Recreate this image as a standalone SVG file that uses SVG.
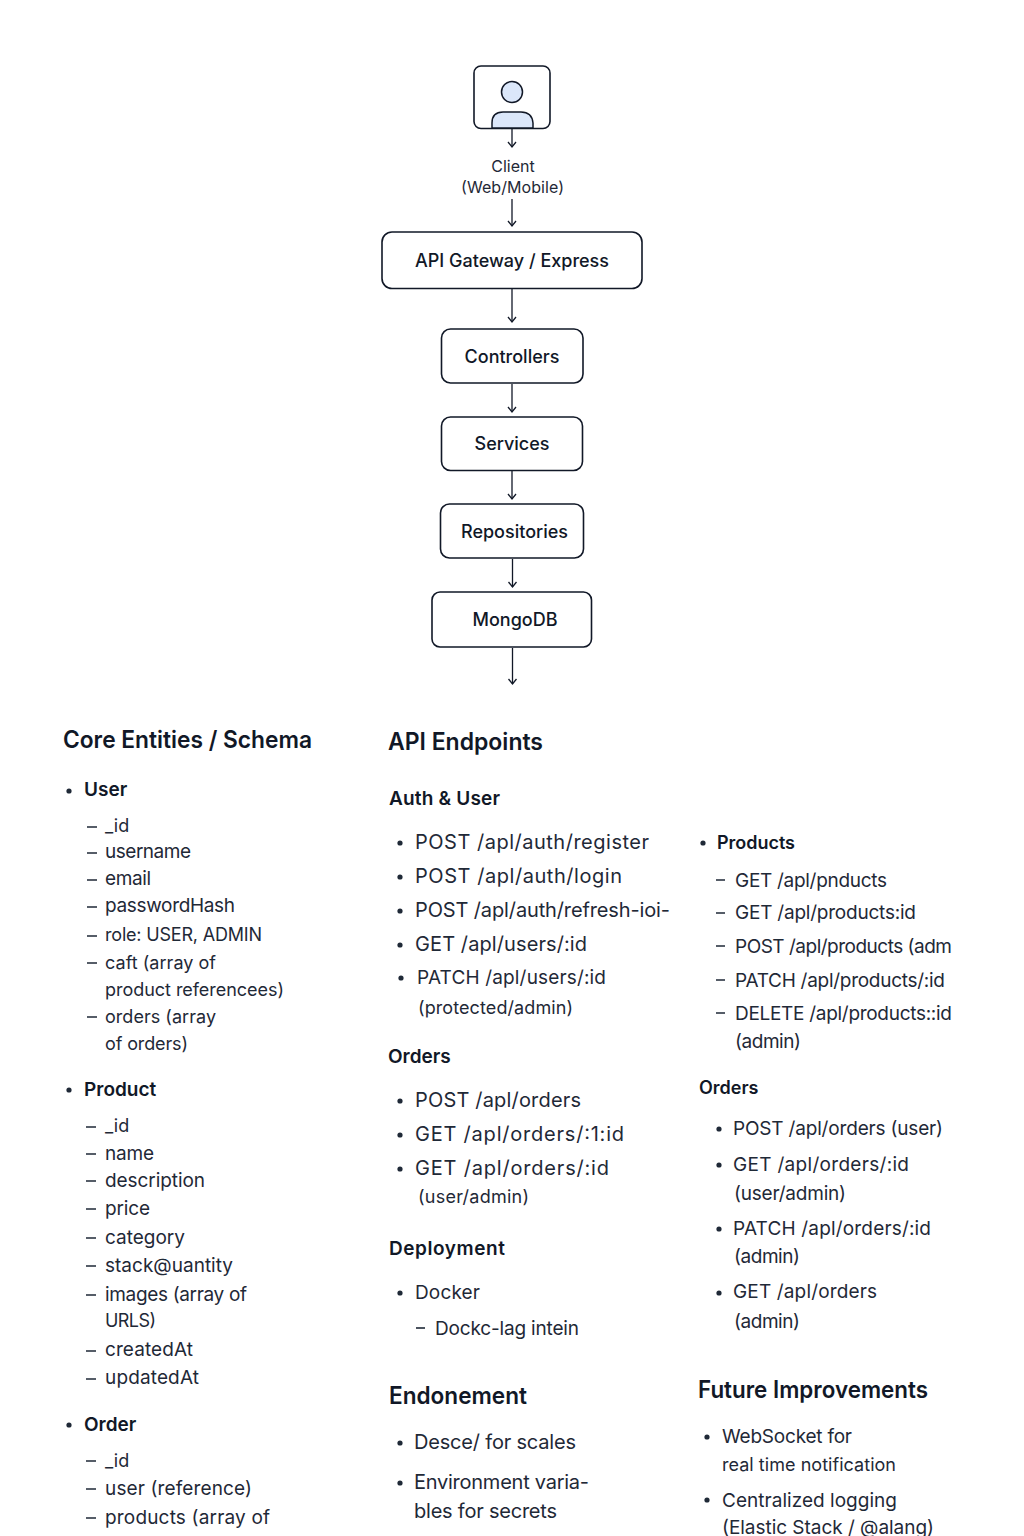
<svg xmlns="http://www.w3.org/2000/svg" width="1024" height="1536" viewBox="0 0 1024 1536">
<style>
text{font-family:Inter,"Noto Sans","Liberation Sans",sans-serif;fill:#111827}
.box{fill:#fff;stroke:#111827;stroke-width:1.6}
.n{font-size:18px;font-weight:500;text-anchor:middle}
.c{font-size:16px;text-anchor:middle;fill:#1f2937}
.h{font-size:24px;font-weight:600}
.s{font-size:19px;font-weight:600}
.t{font-size:19px;fill:#1f2937}
.w{font-size:20px}
.m{font-size:18px}
.k{font-size:19px;font-weight:600}
.d{stroke:#1f2937;stroke-width:1.6;fill:none}
.con{stroke:#111827;stroke-width:1.3;fill:none;marker-end:url(#a)}
</style>
<defs>
<marker id="a" markerWidth="12" markerHeight="10" refX="8" refY="5" orient="auto" markerUnits="userSpaceOnUse"><path d="M3 1L8 5L3 9" fill="none" stroke="#111827" stroke-width="1.3"/></marker>
<circle id="b" r="2.6" fill="#1f2937"/>
</defs>
<rect width="1024" height="1536" fill="#fff"/>
<g id="connectors">
<path class="con" d="M512 129V147"/>
<path class="con" d="M512 199V226"/>
<path class="con" d="M512 289V322"/>
<path class="con" d="M512 384V412"/>
<path class="con" d="M512 471V499"/>
<path class="con" d="M512.500 559V587"/>
<path class="con" d="M512.500 648V684"/>
</g>
<g id="client">
<rect class="box" x="474" y="66" width="76" height="62.500" rx="7"/>
<circle cx="512" cy="92" r="10.500" fill="#dbe7fa" stroke="#111827" stroke-width="1.500"/>
<path d="M492 128V123Q492 112 503 112H521Q532 112 533 123V128Z" fill="#dbe7fa" stroke="#111827" stroke-width="1.500"/>
<text class="c" x="513" y="172">Client</text>
<text class="c" x="512.500" y="193" textLength="103">(Web/Mobile)</text>
</g>
<g id="gateway"><rect class="box" x="382" y="232" width="260" height="56.500" rx="10"/><text class="n" x="512" y="266.500" textLength="194" lengthAdjust="spacingAndGlyphs">API Gateway / Express</text></g>
<g id="controllers"><rect class="box" x="441.500" y="329" width="141.500" height="54" rx="9"/><text class="n" x="512" y="363">Controllers</text></g>
<g id="services"><rect class="box" x="441.500" y="417" width="141" height="53.500" rx="9"/><text class="n" x="512" y="450">Services</text></g>
<g id="repositories"><rect class="box" x="440.500" y="504" width="143" height="54" rx="9"/><text class="n" x="514.500" y="537.500">Repositories</text></g>
<g id="mongodb"><rect class="box" x="432" y="592" width="159.500" height="55" rx="8"/><text class="n" x="515" y="625.500">MongoDB</text></g>

<g id="schema">
<text class="h" x="63" y="748" textLength="249" lengthAdjust="spacingAndGlyphs">Core Entities / Schema</text>
<use href="#b" x="69" y="791"/><text class="k" x="84" y="796">User</text>
<path class="d" d="M87 827H97M87 853H97M87 880H97M87 907H97M87 936H97M87 963H97M87 1017H97"/>
<text class="t m" x="105" y="832">_id</text>
<text class="t" x="105" y="858" textLength="86">username</text>
<text class="t" x="105" y="885" textLength="46">email</text>
<text class="t" x="105" y="912" textLength="130">passwordHash</text>
<text class="t m" x="105" y="941" textLength="157">role:  USER, ADMIN</text>
<text class="t m" x="105" y="969" textLength="111">caft (array of</text>
<text class="t m" x="105" y="996" textLength="179">product referencees)</text>
<text class="t m" x="105" y="1023" textLength="111">orders (array</text>
<text class="t m" x="105" y="1050" textLength="83">of orders)</text>
<use href="#b" x="69" y="1090"/><text class="k" x="84" y="1096">Product</text>
<path class="d" d="M86 1127H96M86 1154H96M86 1181H96M86 1209H96M86 1238H96M86 1266H96M86 1295H96M86 1351H96M86 1379H96"/>
<text class="t m" x="105" y="1132">_id</text>
<text class="t" x="105" y="1160" textLength="49">name</text>
<text class="t" x="105" y="1187" textLength="100">description</text>
<text class="t" x="105" y="1215" textLength="45">price</text>
<text class="t" x="105" y="1244" textLength="80">category</text>
<text class="t" x="105" y="1272" textLength="128">stack@uantity</text>
<text class="t" x="105" y="1301" textLength="142">images (array of</text>
<text class="t m" x="105" y="1327" textLength="51">URLS)</text>
<text class="t" x="105" y="1356" textLength="88">createdAt</text>
<text class="t" x="105" y="1384" textLength="94">updatedAt</text>
<use href="#b" x="69" y="1425"/><text class="k" x="84" y="1431">Order</text>
<path class="d" d="M86 1461H96M86 1489H96M86 1518H96"/>
<text class="t m" x="105" y="1467">_id</text>
<text class="t" x="105" y="1495" textLength="147">user (reference)</text>
<text class="t" x="105" y="1524" textLength="165">products (array of</text>
</g>

<g id="endpoints">
<text class="h" x="388" y="750" textLength="155" lengthAdjust="spacingAndGlyphs">API Endpoints</text>
<text class="s" x="389" y="805" textLength="111">Auth &amp; User</text>
<use href="#b" x="400" y="843"/><text class="t w" x="415" y="849" textLength="234">POST /apl/auth/register</text>
<use href="#b" x="400" y="877"/><text class="t w" x="415" y="883" textLength="207">POST /apl/auth/login</text>
<use href="#b" x="400" y="911"/><text class="t w" x="415" y="917" textLength="255">POST /apl/auth/refresh-ioi-</text>
<use href="#b" x="400" y="945"/><text class="t w" x="415" y="951" textLength="172">GET /apl/users/:id</text>
<use href="#b" x="401" y="978"/><text class="t" x="417" y="984" textLength="189">PATCH /apl/users/:id</text>
<text class="t m" x="418" y="1014" textLength="155">(protected/admin)</text>
<text class="s" x="388" y="1063">Orders</text>
<use href="#b" x="400" y="1101"/><text class="t w" x="415" y="1107" textLength="166">POST /apl/orders</text>
<use href="#b" x="400" y="1135"/><text class="t w" x="415" y="1141" textLength="209">GET /apl/orders/:1:id</text>
<use href="#b" x="400" y="1169"/><text class="t w" x="415" y="1175" textLength="194">GET /apl/orders/:id</text>
<text class="t m" x="418" y="1203" textLength="111">(user/admin)</text>
<text class="s" x="389" y="1255" textLength="116">Deployment</text>
<use href="#b" x="400" y="1293"/><text class="t" x="415" y="1299" textLength="65">Docker</text>
<path class="d" d="M416 1328H425"/><text class="t" x="435" y="1335" textLength="144">Dockc-lag intein</text>
<text class="h" x="389" y="1404" textLength="138" lengthAdjust="spacingAndGlyphs">Endonement</text>
<use href="#b" x="400" y="1443"/><text class="t w" x="414" y="1449" textLength="162">Desce/ for scales</text>
<use href="#b" x="400" y="1483"/><text class="t w" x="414" y="1489" textLength="175">Environment varia-</text>
<text class="t w" x="414" y="1518" textLength="143">bles for secrets</text>
</g>

<g id="products">
<use href="#b" x="703" y="843"/><text class="k" x="717" y="849" style="font-size:18px" textLength="78">Products</text>
<path class="d" d="M716 880H725M716 913H725M716 946H725M716 980H725M716 1013H725"/>
<text class="t" x="735" y="887" textLength="152">GET /apl/pnducts</text>
<text class="t" x="735" y="919" textLength="181">GET /apl/products:id</text>
<text class="t" x="735" y="953" textLength="217">POST /apl/products (adm</text>
<text class="t" x="735" y="987" textLength="210">PATCH /apl/products/:id</text>
<text class="t" x="735" y="1020" textLength="217">DELETE /apl/products::id</text>
<text class="t" x="735" y="1048" textLength="66">(admin)</text>
<text class="s" x="699" y="1094" style="font-size:18px">Orders</text>
<use href="#b" x="719" y="1129"/><text class="t" x="733" y="1135" textLength="210">POST /apl/orders (user)</text>
<use href="#b" x="719" y="1165"/><text class="t" x="733" y="1171" textLength="176">GET /apl/orders/:id</text>
<text class="t" x="734" y="1200" textLength="112">(user/admin)</text>
<use href="#b" x="719" y="1229"/><text class="t" x="733" y="1235" textLength="198">PATCH /apl/orders/:id</text>
<text class="t" x="734" y="1263" textLength="66">(admin)</text>
<use href="#b" x="719" y="1293"/><text class="t" x="733" y="1298" textLength="144">GET /apl/orders</text>
<text class="t" x="734" y="1328" textLength="66">(admin)</text>
</g>

<g id="future">
<text class="h" x="698" y="1398" textLength="230" lengthAdjust="spacingAndGlyphs">Future Improvements</text>
<use href="#b" x="707" y="1437"/><text class="t" x="722" y="1443" textLength="130">WebSocket for</text>
<text class="t m" x="722" y="1471" textLength="174">real time notification</text>
<use href="#b" x="707" y="1500"/><text class="t" x="722" y="1507" textLength="175">Centralized logging</text>
<text class="t" x="722" y="1534" textLength="212">(Elastic Stack / @alang)</text>
</g>
</svg>
